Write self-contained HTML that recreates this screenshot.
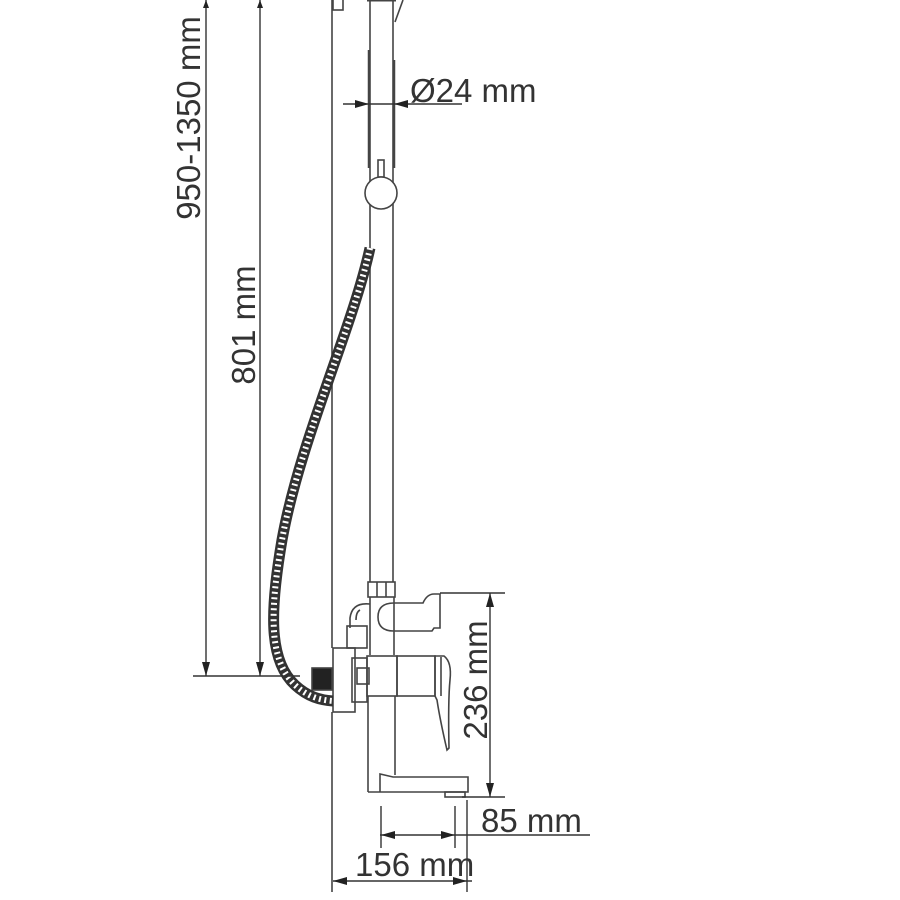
<!DOCTYPE html>
<html><head><style>
html,body{margin:0;padding:0;background:#fff}
svg{display:block}
text{font-family:"Liberation Sans",sans-serif;fill:#333}
</style></head><body>
<svg width="900" height="900" viewBox="0 0 900 900" xmlns="http://www.w3.org/2000/svg">
<g stroke="#444" stroke-width="1.6" fill="none">
<line x1="332" y1="0" x2="332" y2="648"/>
<line x1="332" y1="712" x2="332" y2="892"/>
<rect x="333" y="-2" width="10" height="12"/>
<line x1="370" y1="0" x2="370" y2="582"/>
<line x1="393" y1="0" x2="393" y2="582"/>
<line x1="367" y1="0" x2="396" y2="0" stroke-width="3"/>
<line x1="403" y1="0" x2="395" y2="22"/>
<line x1="369" y1="50" x2="369" y2="168" stroke-width="2.5"/>
<line x1="394" y1="60" x2="394" y2="168" stroke-width="2.5"/>
<rect x="378" y="160" width="6" height="17" fill="#fff"/>
<circle cx="381" cy="193" r="16" fill="#fff"/>
<rect x="368" y="582" width="27" height="15"/>
<line x1="377" y1="582" x2="377" y2="597"/><line x1="386" y1="582" x2="386" y2="597"/>
<path d="M394 603 H423 Q427 594 434 594 H440 V628 H434 L432 631 H394"/>
<path d="M394 603 Q378 603 378 617 Q378 631 394 631"/>
<line x1="394" y1="597" x2="394" y2="655"/>
<line x1="370" y1="597" x2="370" y2="655"/>
<path d="M370 604 Q352 602 350 618 V628"/>
<path d="M360 610 Q356 612 356 620"/>
<rect x="347" y="626" width="20" height="22"/>
<rect x="333" y="648" width="22" height="64"/>
<rect x="352" y="658" width="15" height="44"/>
<rect x="312" y="668" width="20" height="22" fill="#222"/>
<rect x="367" y="656" width="30" height="40"/>
<rect x="357" y="668" width="12" height="16"/>
<rect x="397" y="656" width="38" height="40"/>
<path d="M435 656 H444 Q452 662 450 680 Q448 700 449 748 L447 750 Q440 720 437 700 L435 696 Z"/>
<line x1="441" y1="657" x2="441" y2="696"/>
<line x1="368" y1="696" x2="368" y2="792"/>
<line x1="395" y1="696" x2="395" y2="775"/>
<path d="M368 792 H468 V777 H393 L380 774 V792"/>
<rect x="445" y="792" width="20" height="5"/>
</g>
<path d="M370 248 C352 330 300 440 282 540 C270 610 268 660 295 685 C308 697 320 700 333 701" stroke="#333" stroke-width="11" fill="none"/>
<path d="M370 248 C352 330 300 440 282 540 C270 610 268 660 295 685 C308 697 320 700 333 701" stroke="#fff" stroke-width="6" stroke-dasharray="2 3.5" fill="none"/>
<g stroke="#333" stroke-width="1.4" fill="none">
<line x1="206" y1="0" x2="206" y2="676"/>
<line x1="260" y1="0" x2="260" y2="676"/>
<line x1="193" y1="676" x2="300" y2="676"/>
<line x1="343" y1="104" x2="462" y2="104"/>
<line x1="490" y1="593" x2="490" y2="797"/>
<line x1="440" y1="593" x2="505" y2="593"/>
<line x1="462" y1="797" x2="505" y2="797"/>
<line x1="381" y1="806" x2="381" y2="848"/>
<line x1="455" y1="806" x2="455" y2="848"/>
<line x1="380" y1="835" x2="590" y2="835"/>
<line x1="467" y1="800" x2="467" y2="892"/>
<line x1="333" y1="881" x2="472" y2="881"/>
</g>
<g fill="#222">
<path d="M206 676 L202 662 L210 662Z"/>
<path d="M260 676 L256 662 L264 662Z"/>
<path d="M206 0 L203 8 L209 8Z"/>
<path d="M260 0 L257 8 L263 8Z"/>
<path d="M369 104 L355 100 L355 108Z"/>
<path d="M394 104 L408 100 L408 108Z"/>
<path d="M490 593 L486 607 L494 607Z"/>
<path d="M490 797 L486 783 L494 783Z"/>
<path d="M381 835 L395 831 L395 839Z"/>
<path d="M455 835 L441 831 L441 839Z"/>
<path d="M333 881 L347 877 L347 885Z"/>
<path d="M467 881 L453 877 L453 885Z"/>
</g>
<text x="0" y="0" font-size="33" text-anchor="middle" transform="translate(200,118) rotate(-90)">950-1350 mm</text>
<text x="0" y="0" font-size="33" text-anchor="middle" transform="translate(255,325) rotate(-90)">801 mm</text>
<text x="0" y="0" font-size="33" text-anchor="middle" transform="translate(487,680) rotate(-90)">236 mm</text>
<text x="410" y="102" font-size="33">Ø24 mm</text>
<text x="481" y="832" font-size="33">85 mm</text>
<text x="355" y="876" font-size="33">156 mm</text>
</svg>
</body></html>
